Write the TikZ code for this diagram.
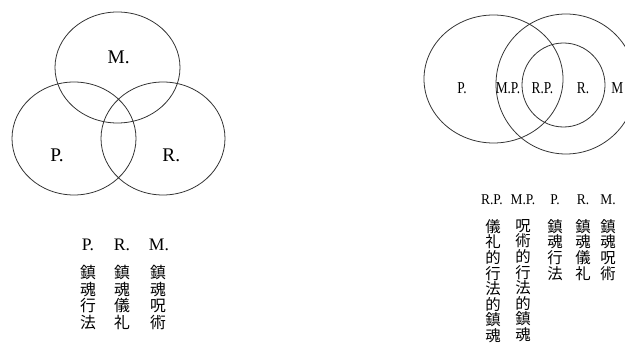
\documentclass[tikz,border=0pt]{standalone}
\usepackage{fontspec}
\setmainfont{Liberation Serif}
\newfontfamily\jpfont{Noto Sans CJK JP}
\usepackage{tikz}
\tikzset{
  ring/.style={draw=black!80,line width=0.9pt},
  lab/.style={font=\fontsize{22}{22}\selectfont,inner sep=0pt},
  labsm/.style={font=\fontsize{19}{19}\selectfont,inner sep=0pt,xscale=0.8,transform shape},
  head/.style={font=\fontsize{20}{20}\selectfont,inner sep=0pt},
  headsm/.style={font=\fontsize{17}{17}\selectfont,inner sep=0pt,xscale=0.9,transform shape},
  vcol/.style={anchor=north,align=center,inner sep=0pt,
               font=\jpfont\fontsize{18}{19}\selectfont},
  vcolsm/.style={vcol,font=\jpfont\fontsize{17.5}{17.8}\selectfont},
}

\begin{document}
\begin{tikzpicture}[x=1cm,y=1cm]
  \path[use as bounding box] (0,0) rectangle (25,13.8);

  % three overlapping circles
  \draw[ring] (4.70,11.10) ellipse [x radius=2.50,y radius=2.22];
  \draw[ring] (2.96,8.26) ellipse [x radius=2.48,y radius=2.26];
  \draw[ring] (6.52,8.26) ellipse [x radius=2.48,y radius=2.26];
  \node[lab] (lM) at (4.75,11.52) {M.};
  \node[lab] (lP) at (2.28,7.60) {P.};
  \node[lab] (lR) at (6.85,7.60) {R.};

  \node[head] (hP) at (3.52,4.00) {P.};
  \node[head] (hR) at (4.88,4.00) {R.};
  \node[head] (hM) at (6.36,4.00) {M.};
  \node[vcol] (cP) at (3.52,3.20) {鎮\\魂\\行\\法};
  \node[vcol] (cR) at (4.88,3.20) {鎮\\魂\\儀\\礼};
  \node[vcol] (cM) at (6.32,3.20) {鎮\\魂\\呪\\術};

  % nested circles
  \draw[ring] (19.74,10.64) ellipse [x radius=2.78,y radius=2.56];
  \draw[ring] (22.64,10.44) ellipse [x radius=2.80,y radius=2.80];
  \draw[ring] (22.54,10.40) ellipse [x radius=1.66,y radius=1.68];
  \node[labsm] (rP) at (18.48,10.28) {P.};
  \node[labsm] (rMP) at (20.32,10.28) {M.P.};
  \node[labsm] (rRP) at (21.70,10.28) {R.P.};
  \node[labsm] (rR) at (23.32,10.28) {R.};
  \node[labsm,anchor=west] (rM) at (24.45,10.28) {M};

  \node[headsm] (gRP) at (19.68,5.80) {R.P.};
  \node[headsm] (gMP) at (20.92,5.80) {M.P.};
  \node[headsm] (gP) at (22.20,5.80) {P.};
  \node[headsm] (gR) at (23.32,5.80) {R.};
  \node[headsm] (gM) at (24.32,5.80) {M.};
  \node[vcolsm] (kRP) at (19.72,5.04) {儀\\礼\\的\\行\\法\\的\\鎮\\魂};
  \node[vcolsm] (kMP) at (20.92,5.04) {呪\\術\\的\\行\\法\\的\\鎮\\魂};
  \node[vcolsm] (kP) at (22.20,5.04) {鎮\\魂\\行\\法};
  \node[vcolsm] (kR) at (23.32,5.04) {鎮\\魂\\儀\\礼};
  \node[vcolsm] (kM) at (24.32,5.04) {鎮\\魂\\呪\\術};
\end{tikzpicture}
\end{document}
